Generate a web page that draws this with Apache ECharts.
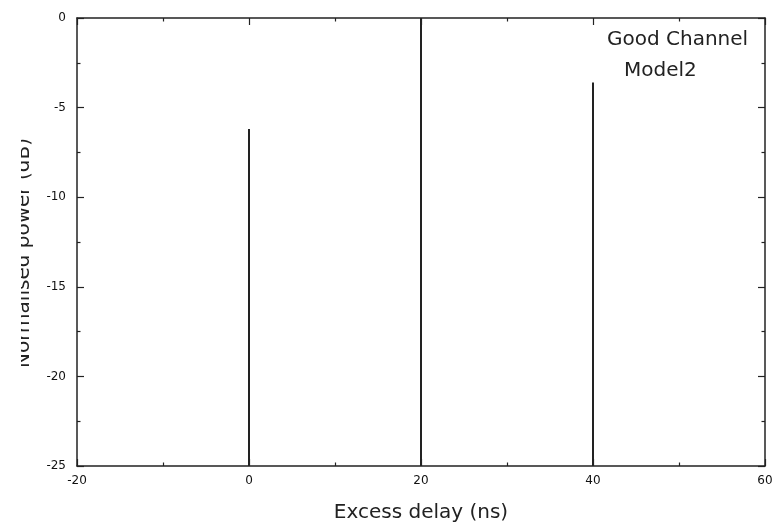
<!DOCTYPE html>
<html>
<head>
<meta charset="utf-8">
<script src="https://cdn.jsdelivr.net/npm/echarts@6/dist/echarts.min.js"></script>
<style>
  html, body { margin: 0; padding: 0; background: #fff; }
  #chart { width: 772px; height: 525px; }
</style>
</head>
<body>
<div id="chart"></div>
<script>
// excess delay of each path (ns) and its normalised power (dB)
var delays = [0, 20, 40];
var powers = [-6.2, 0, -3.6];

var xRange = [-20, 60];
var yRange = [-25, 0];
var xStep = 20;
var yStep = 5;

var xTitle = "Excess delay (ns)";
var yTitle = "Normalised power (dB)";
var noteLines = ["Good Channel", "Model2"];

var lineColor = "#222";
var bigFont = "DejaVu Sans";
var tickFont = "DejaVu Sans";

var stemData = delays.map(function (d, i) {
  return [d, powers[i]];
});

var myChart = echarts.init(document.getElementById("chart"));

function frameAxis(showLabels) {
  return {
    axisLine: { show: true, onZero: false, lineStyle: { color: lineColor, width: 1.5 } },
    axisTick: { show: true, inside: true, length: 7, lineStyle: { color: lineColor, width: 1.2 } },
    minorTick: { show: true, splitNumber: 2, length: 3.5, lineStyle: { color: lineColor, width: 1.2 } },
    splitLine: { show: false },
    minorSplitLine: { show: false },
    axisLabel: {
      show: showLabels,
      color: "#111",
      fontSize: 12,
      fontFamily: tickFont
    }
  };
}

var xBottom = Object.assign(frameAxis(true), {
  type: "value",
  position: "bottom",
  min: xRange[0],
  max: xRange[1],
  interval: xStep,
  name: xTitle,
  nameLocation: "middle",
  nameGap: 37,
  nameTextStyle: { fontFamily: bigFont, fontSize: 20, color: "#222" }
});
xBottom.axisLabel.margin = 9;

var xTop = Object.assign(frameAxis(false), {
  type: "value",
  position: "top",
  min: xRange[0],
  max: xRange[1],
  interval: xStep
});

var yLeft = Object.assign(frameAxis(true), {
  type: "value",
  position: "left",
  min: yRange[0],
  max: yRange[1],
  interval: yStep,
  name: yTitle,
  nameLocation: "middle",
  nameGap: 43,
  nameTextStyle: {
    fontFamily: bigFont,
    fontSize: 20,
    color: "#222",
    padding: [0, 22, 0, 0]
  }
});
yLeft.axisLabel.margin = 11;

var yRight = Object.assign(frameAxis(false), {
  type: "value",
  position: "right",
  min: yRange[0],
  max: yRange[1],
  interval: yStep
});

var option = {
  backgroundColor: "#fff",
  animation: false,
  grid: {
    left: 77,
    top: 18,
    right: 7,
    bottom: 59,
    containLabel: false,
    outerBoundsMode: "none"
  },
  xAxis: [xBottom, xTop],
  yAxis: [yLeft, yRight],
  graphic: [
    // the y title is cut off at the left edge in the original
    {
      type: "rect",
      left: 0,
      top: 100,
      z: 100,
      shape: { width: 21, height: 300 },
      style: { fill: "#fff" }
    },
    {
      type: "text",
      left: 607,
      top: 30,
      z: 100,
      style: { text: noteLines[0], fontFamily: bigFont, fontSize: 20, fill: "#222" }
    },
    {
      type: "text",
      left: 624,
      top: 61,
      z: 100,
      style: { text: noteLines[1], fontFamily: bigFont, fontSize: 20, fill: "#222" }
    }
  ],
  series: [
    {
      type: "custom",
      xAxisIndex: 0,
      yAxisIndex: 0,
      data: stemData,
      renderItem: function (params, api) {
        var base = api.coord([api.value(0), yRange[0]]);
        var tip = api.coord([api.value(0), api.value(1)]);
        return {
          type: "line",
          shape: { x1: base[0], y1: base[1], x2: tip[0], y2: tip[1] },
          style: { stroke: lineColor, lineWidth: 2 }
        };
      }
    }
  ]
};

option && myChart.setOption(option);
</script>
</body>
</html>
